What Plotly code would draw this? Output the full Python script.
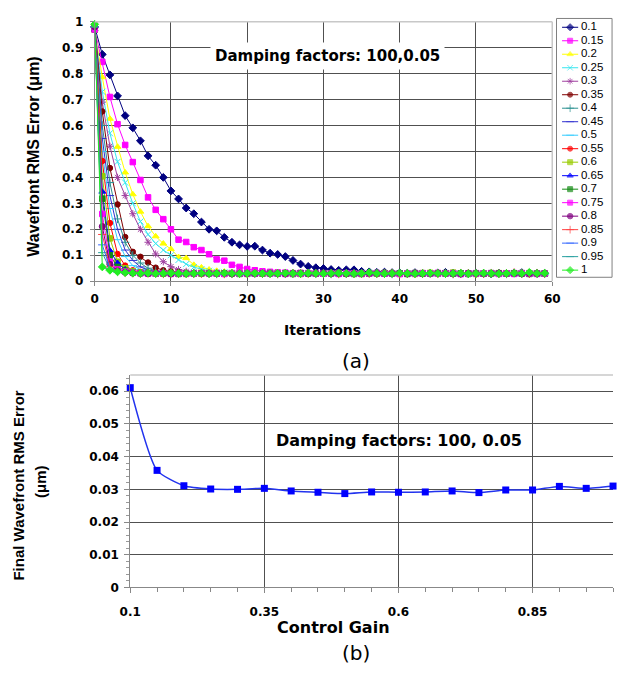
import plotly.graph_objects as go

# ---------------- data: chart (a) ----------------
iterations = list(range(60))
gain_labels = ["0.1", "0.15", "0.2", "0.25", "0.3", "0.35", "0.4", "0.45", "0.5", "0.55",
               "0.6", "0.65", "0.7", "0.75", "0.8", "0.85", "0.9", "0.95", "1"]

s_010 = [0.980, 0.874, 0.795, 0.714, 0.638, 0.591, 0.541, 0.483, 0.447, 0.400,
         0.348, 0.317, 0.282, 0.260, 0.228, 0.200, 0.194, 0.169, 0.150, 0.140,
         0.134, 0.135, 0.120, 0.108, 0.103, 0.095, 0.080, 0.066, 0.057, 0.052,
         0.049, 0.045, 0.042, 0.044, 0.044, 0.038, 0.036, 0.034, 0.035, 0.033,
         0.032, 0.031, 0.033, 0.030, 0.031, 0.032, 0.034, 0.031, 0.030, 0.029,
         0.031, 0.030, 0.028, 0.031, 0.030, 0.032, 0.033, 0.031, 0.030, 0.030]
s_015 = [0.970, 0.845, 0.710, 0.605, 0.525, 0.459, 0.390, 0.323, 0.275, 0.239,
         0.200, 0.160, 0.151, 0.131, 0.120, 0.104, 0.084, 0.079, 0.063, 0.055,
         0.047, 0.042, 0.038, 0.036, 0.034, 0.033, 0.031, 0.032, 0.030, 0.029,
         0.031, 0.030, 0.032, 0.030, 0.029, 0.028, 0.030, 0.031, 0.029, 0.030,
         0.028, 0.030, 0.031, 0.029, 0.030, 0.032, 0.030, 0.029, 0.028, 0.030,
         0.031, 0.029, 0.030, 0.028, 0.030, 0.031, 0.029, 0.030, 0.028, 0.029]
s_020 = [0.970, 0.786, 0.626, 0.518, 0.419, 0.335, 0.268, 0.212, 0.173, 0.145,
         0.124, 0.093, 0.089, 0.063, 0.053, 0.045, 0.040, 0.037, 0.035, 0.033,
         0.031, 0.030, 0.032, 0.029, 0.031, 0.030, 0.028, 0.030, 0.031, 0.029,
         0.030, 0.032, 0.029, 0.030, 0.031, 0.028, 0.030, 0.029, 0.031, 0.030,
         0.029, 0.031, 0.030, 0.028, 0.030, 0.031, 0.029, 0.030, 0.032, 0.029,
         0.030, 0.028, 0.031, 0.030, 0.029, 0.030, 0.031, 0.029, 0.030, 0.028]
s_025 = [0.980, 0.730, 0.570, 0.460, 0.380, 0.300, 0.230, 0.180, 0.145, 0.120,
         0.100, 0.082, 0.066, 0.054, 0.046, 0.040, 0.036, 0.034, 0.032, 0.031,
         0.030, 0.029, 0.031, 0.030, 0.028, 0.030, 0.031, 0.029, 0.030, 0.031,
         0.029, 0.028, 0.030, 0.031, 0.029, 0.030, 0.032, 0.029, 0.030, 0.028,
         0.031, 0.030, 0.029, 0.031, 0.030, 0.028, 0.030, 0.029, 0.031, 0.030,
         0.029, 0.030, 0.028, 0.031, 0.030, 0.029, 0.030, 0.031, 0.029, 0.030]
s_030 = [0.975, 0.690, 0.520, 0.400, 0.330, 0.260, 0.200, 0.150, 0.105, 0.075,
         0.056, 0.045, 0.038, 0.034, 0.032, 0.030, 0.031, 0.029, 0.030, 0.031,
         0.028, 0.030, 0.029, 0.031, 0.030, 0.029, 0.030, 0.028, 0.031, 0.030,
         0.029, 0.031, 0.030, 0.028, 0.030, 0.029, 0.031, 0.030, 0.029, 0.030,
         0.031, 0.028, 0.030, 0.029, 0.030, 0.031, 0.029, 0.030, 0.028, 0.030,
         0.031, 0.029, 0.030, 0.029, 0.031, 0.030, 0.028, 0.030, 0.029, 0.030]
s_035 = [0.990, 0.654, 0.436, 0.296, 0.170, 0.113, 0.094, 0.072, 0.052, 0.042,
         0.037, 0.034, 0.032, 0.030, 0.031, 0.029, 0.030, 0.031, 0.028, 0.030,
         0.029, 0.031, 0.030, 0.029, 0.030, 0.028, 0.031, 0.030, 0.029, 0.030,
         0.031, 0.029, 0.030, 0.028, 0.030, 0.031, 0.029, 0.030, 0.029, 0.031,
         0.030, 0.028, 0.030, 0.029, 0.031, 0.030, 0.029, 0.030, 0.031, 0.028,
         0.030, 0.029, 0.030, 0.031, 0.029, 0.030, 0.028, 0.030, 0.031, 0.029]
s_040 = [0.980, 0.600, 0.380, 0.240, 0.150, 0.100, 0.070, 0.050, 0.040, 0.035,
         0.032, 0.031, 0.030, 0.029, 0.031, 0.030, 0.028, 0.030, 0.029, 0.031,
         0.030, 0.029, 0.030, 0.031, 0.028, 0.030, 0.029, 0.030, 0.031, 0.029,
         0.030, 0.028, 0.031, 0.030, 0.029, 0.030, 0.031, 0.029, 0.030, 0.028,
         0.030, 0.031, 0.029, 0.030, 0.029, 0.031, 0.030, 0.028, 0.030, 0.029,
         0.031, 0.030, 0.029, 0.030, 0.028, 0.031, 0.030, 0.029, 0.030, 0.031]
s_045 = [0.980, 0.550, 0.330, 0.200, 0.120, 0.080, 0.055, 0.042, 0.036, 0.033,
         0.031, 0.030, 0.029, 0.031, 0.030, 0.028, 0.030, 0.031, 0.029, 0.030,
         0.029, 0.031, 0.030, 0.028, 0.030, 0.029, 0.031, 0.030, 0.029, 0.030,
         0.028, 0.030, 0.031, 0.029, 0.030, 0.029, 0.031, 0.030, 0.028, 0.030,
         0.029, 0.031, 0.030, 0.029, 0.030, 0.028, 0.031, 0.030, 0.029, 0.030,
         0.031, 0.029, 0.030, 0.028, 0.030, 0.029, 0.031, 0.030, 0.029, 0.030]
s_050 = [0.980, 0.500, 0.280, 0.160, 0.095, 0.060, 0.045, 0.038, 0.034, 0.031,
         0.030, 0.029, 0.031, 0.030, 0.028, 0.030, 0.029, 0.031, 0.030, 0.029,
         0.030, 0.031, 0.028, 0.030, 0.029, 0.030, 0.031, 0.029, 0.030, 0.028,
         0.031, 0.030, 0.029, 0.030, 0.031, 0.029, 0.030, 0.028, 0.030, 0.029,
         0.031, 0.030, 0.029, 0.030, 0.028, 0.031, 0.030, 0.029, 0.030, 0.031,
         0.029, 0.030, 0.028, 0.030, 0.029, 0.031, 0.030, 0.029, 0.030, 0.028]
s_055 = [0.980, 0.463, 0.224, 0.105, 0.060, 0.042, 0.036, 0.033, 0.031, 0.030,
         0.029, 0.031, 0.030, 0.028, 0.030, 0.029, 0.031, 0.030, 0.029, 0.030,
         0.031, 0.028, 0.030, 0.029, 0.030, 0.031, 0.029, 0.030, 0.028, 0.031,
         0.030, 0.029, 0.030, 0.031, 0.029, 0.030, 0.028, 0.030, 0.029, 0.031,
         0.030, 0.029, 0.030, 0.028, 0.031, 0.030, 0.029, 0.030, 0.031, 0.029,
         0.030, 0.028, 0.030, 0.029, 0.031, 0.030, 0.029, 0.032, 0.030, 0.029]
s_060 = [0.970, 0.404, 0.165, 0.075, 0.050, 0.038, 0.033, 0.031, 0.030, 0.029,
         0.031, 0.030, 0.028, 0.030, 0.029, 0.031, 0.030, 0.029, 0.030, 0.031,
         0.028, 0.030, 0.029, 0.030, 0.031, 0.029, 0.030, 0.028, 0.031, 0.030,
         0.029, 0.030, 0.031, 0.029, 0.030, 0.028, 0.030, 0.029, 0.031, 0.030,
         0.029, 0.030, 0.028, 0.031, 0.032, 0.029, 0.030, 0.033, 0.029, 0.030,
         0.028, 0.030, 0.029, 0.031, 0.030, 0.029, 0.030, 0.031, 0.029, 0.030]
s_065 = [0.970, 0.345, 0.118, 0.070, 0.045, 0.036, 0.032, 0.030, 0.031, 0.029,
         0.030, 0.028, 0.030, 0.031, 0.029, 0.030, 0.029, 0.031, 0.030, 0.028,
         0.030, 0.029, 0.031, 0.030, 0.029, 0.030, 0.031, 0.028, 0.030, 0.029,
         0.030, 0.031, 0.029, 0.030, 0.028, 0.030, 0.031, 0.029, 0.030, 0.029,
         0.031, 0.030, 0.028, 0.030, 0.029, 0.031, 0.033, 0.029, 0.030, 0.028,
         0.031, 0.030, 0.029, 0.030, 0.031, 0.029, 0.030, 0.028, 0.030, 0.029]
s_070 = [0.970, 0.318, 0.100, 0.055, 0.040, 0.034, 0.031, 0.030, 0.029, 0.031,
         0.030, 0.028, 0.030, 0.029, 0.031, 0.030, 0.029, 0.030, 0.031, 0.028,
         0.030, 0.029, 0.030, 0.031, 0.029, 0.030, 0.028, 0.031, 0.030, 0.029,
         0.030, 0.031, 0.029, 0.030, 0.028, 0.030, 0.029, 0.031, 0.030, 0.029,
         0.030, 0.028, 0.031, 0.030, 0.029, 0.030, 0.031, 0.029, 0.030, 0.028,
         0.030, 0.029, 0.031, 0.030, 0.029, 0.030, 0.031, 0.028, 0.030, 0.029]
s_075 = [0.970, 0.259, 0.075, 0.045, 0.037, 0.033, 0.031, 0.029, 0.030, 0.031,
         0.028, 0.030, 0.029, 0.030, 0.031, 0.029, 0.030, 0.028, 0.031, 0.030,
         0.029, 0.030, 0.031, 0.029, 0.030, 0.028, 0.030, 0.029, 0.031, 0.030,
         0.029, 0.030, 0.028, 0.031, 0.030, 0.029, 0.030, 0.031, 0.029, 0.030,
         0.028, 0.030, 0.029, 0.031, 0.030, 0.029, 0.030, 0.031, 0.028, 0.030,
         0.029, 0.030, 0.031, 0.029, 0.030, 0.028, 0.031, 0.030, 0.029, 0.030]
s_080 = [0.980, 0.211, 0.065, 0.040, 0.034, 0.031, 0.030, 0.029, 0.031, 0.030,
         0.028, 0.030, 0.029, 0.031, 0.030, 0.029, 0.030, 0.031, 0.028, 0.030,
         0.029, 0.030, 0.031, 0.029, 0.030, 0.028, 0.031, 0.030, 0.029, 0.030,
         0.031, 0.029, 0.030, 0.028, 0.030, 0.029, 0.031, 0.030, 0.029, 0.030,
         0.031, 0.028, 0.030, 0.029, 0.030, 0.031, 0.029, 0.030, 0.028, 0.031,
         0.030, 0.029, 0.030, 0.031, 0.029, 0.030, 0.028, 0.030, 0.029, 0.031]
s_085 = [0.980, 0.180, 0.055, 0.038, 0.033, 0.031, 0.029, 0.030, 0.031, 0.028,
         0.030, 0.029, 0.031, 0.030, 0.029, 0.030, 0.031, 0.028, 0.030, 0.029,
         0.030, 0.031, 0.029, 0.030, 0.028, 0.031, 0.030, 0.029, 0.030, 0.031,
         0.029, 0.030, 0.028, 0.030, 0.029, 0.031, 0.030, 0.029, 0.030, 0.031,
         0.028, 0.030, 0.029, 0.030, 0.031, 0.029, 0.030, 0.028, 0.031, 0.030,
         0.029, 0.030, 0.031, 0.029, 0.030, 0.033, 0.030, 0.029, 0.031, 0.030]
s_090 = [0.980, 0.140, 0.050, 0.036, 0.032, 0.030, 0.031, 0.029, 0.030, 0.028,
         0.031, 0.030, 0.029, 0.030, 0.031, 0.029, 0.030, 0.028, 0.030, 0.029,
         0.031, 0.030, 0.029, 0.030, 0.031, 0.028, 0.030, 0.029, 0.030, 0.031,
         0.029, 0.030, 0.028, 0.031, 0.030, 0.029, 0.030, 0.031, 0.029, 0.030,
         0.028, 0.030, 0.029, 0.031, 0.030, 0.029, 0.030, 0.031, 0.028, 0.030,
         0.029, 0.030, 0.031, 0.029, 0.030, 0.028, 0.031, 0.030, 0.029, 0.030]
s_095 = [0.980, 0.110, 0.045, 0.035, 0.031, 0.030, 0.029, 0.031, 0.030, 0.028,
         0.030, 0.029, 0.031, 0.030, 0.029, 0.030, 0.031, 0.029, 0.030, 0.028,
         0.030, 0.029, 0.031, 0.030, 0.029, 0.030, 0.031, 0.028, 0.030, 0.029,
         0.030, 0.031, 0.029, 0.030, 0.028, 0.030, 0.029, 0.031, 0.030, 0.029,
         0.030, 0.031, 0.028, 0.030, 0.033, 0.030, 0.029, 0.031, 0.030, 0.029,
         0.030, 0.028, 0.031, 0.030, 0.029, 0.030, 0.031, 0.029, 0.030, 0.028]
s_100 = [0.990, 0.055, 0.042, 0.036, 0.033, 0.031, 0.030, 0.031, 0.029, 0.030,
         0.031, 0.030, 0.029, 0.030, 0.031, 0.029, 0.030, 0.031, 0.030, 0.029,
         0.030, 0.031, 0.030, 0.029, 0.030, 0.031, 0.030, 0.029, 0.031, 0.030,
         0.029, 0.030, 0.031, 0.030, 0.029, 0.030, 0.033, 0.030, 0.029, 0.030,
         0.031, 0.030, 0.029, 0.030, 0.031, 0.030, 0.029, 0.030, 0.031, 0.029,
         0.030, 0.031, 0.030, 0.029, 0.030, 0.031, 0.030, 0.034, 0.030, 0.031]

series_a = [s_010, s_015, s_020, s_025, s_030, s_035, s_040, s_045, s_050, s_055,
            s_060, s_065, s_070, s_075, s_080, s_085, s_090, s_095, s_100]

# ---------------- data: chart (b) ----------------
control_gain = [0.1, 0.15, 0.2, 0.25, 0.3, 0.35, 0.4, 0.45, 0.5, 0.55,
                0.6, 0.65, 0.7, 0.75, 0.8, 0.85, 0.9, 0.95, 1.0]
final_rms = [0.0611, 0.0358, 0.0311, 0.0301, 0.0300, 0.0303, 0.0295, 0.0291, 0.0287, 0.0292,
             0.0291, 0.0292, 0.0295, 0.0290, 0.0298, 0.0298, 0.0309, 0.0303, 0.0310]

# ---------------- styles ----------------
colors = ["#000080", "#FF00FF", "#FFFF00", "#33E6F0", "#A040A0", "#800000", "#2A9090", "#3030D0",
          "#33CCFF", "#FF0000", "#99CC00", "#0000FF", "#138A13", "#FF00FF", "#800080", "#FF4040",
          "#3366FF", "#2AA0A0", "#22EE22"]
symbols = ["diamond", "square", "triangle-up", "x-thin-open", "asterisk-open", "circle",
           "cross-thin-open", "line-ew-open", "line-ew-open", "circle", "square", "triangle-up",
           "square", "square", "circle", "cross-thin-open", "line-ew-open", "line-ew-open", "diamond"]
sizes = [6, 5.5, 6, 6, 6, 5.5, 6, 6, 6, 5.5, 5.5, 6, 5.5, 5.5, 6, 6, 6, 6, 6]

W, H = 622, 675
def px(x):
    return x / W
def py(y):
    return 1 - y / H

fig = go.Figure()

# chart (a)
for i, (lab, ys) in enumerate(zip(gain_labels, series_a)):
    fig.add_trace(go.Scatter(
        x=iterations, y=ys, name=lab, mode="lines+markers",
        line=dict(color=colors[i], width=1),
        marker=dict(symbol=symbols[i], size=sizes[i], color=colors[i],
                    line=dict(color=colors[i], width=1)),
        xaxis="x", yaxis="y", showlegend=False, cliponaxis=False))

# hand-built legend for chart (a) on its own small axes
n = len(gain_labels)
for i, lab in enumerate(gain_labels):
    msize = [0, sizes[i] - 0.5, 0]
    fig.add_trace(go.Scatter(
        x=[0.10, 0.245, 0.39], y=[i, i, i], mode="lines+markers",
        line=dict(color=colors[i], width=1),
        marker=dict(symbol=symbols[i], size=msize, color=colors[i],
                    line=dict(color=colors[i], width=1)),
        xaxis="x3", yaxis="y3", showlegend=False, hoverinfo="skip"))
fig.add_trace(go.Scatter(
    x=[0.44] * n, y=list(range(n)), mode="text", text=gain_labels,
    textposition="middle right",
    textfont=dict(family="Liberation Sans, Arial", size=11.5, color="black"),
    xaxis="x3", yaxis="y3", showlegend=False, hoverinfo="skip", cliponaxis=False))

# chart (b)
fig.add_trace(go.Scatter(
    x=control_gain, y=final_rms, mode="lines+markers",
    line=dict(color="#2233EE", width=1.5, shape="spline", smoothing=0.6),
    marker=dict(symbol="square", size=7, color="#0000FF"),
    xaxis="x2", yaxis="y2", showlegend=False, cliponaxis=False))

tickfont = dict(family="DejaVu Sans", size=12, color="black", weight="bold")
grid = "#505050"

fig.update_layout(
    width=W, height=H,
    margin=dict(l=0, r=0, t=0, b=0),
    paper_bgcolor="white", plot_bgcolor="white",
    xaxis=dict(domain=[px(86.3), px(558.3)], anchor="y", range=[0, 60], dtick=10,
               showgrid=True, gridcolor=grid, gridwidth=1, zeroline=False,
               showline=True, linecolor="#888888", linewidth=1,
               ticks="outside", ticklen=4, tickcolor="#888888",
               tickfont=tickfont, ticklabelstandoff=2),
    yaxis=dict(domain=[py(280), py(15)], anchor="x", range=[0, 1], dtick=0.1,
               showgrid=True, gridcolor=grid, gridwidth=1, zeroline=False,
               showline=True, linecolor="#888888", linewidth=1,
               ticks="outside", ticklen=4, tickcolor="#888888",
               tickfont=tickfont, ticklabelstandoff=4),
    xaxis2=dict(domain=[px(123), px(621)], anchor="y2", range=[0.1, 1.0],
                tick0=0.1, dtick=0.25,
                showgrid=True, gridcolor=grid, gridwidth=1, zeroline=False,
                showline=True, linecolor="#888888", linewidth=1,
                ticks="outside", ticklen=5, tickcolor="#888888",
                minor=dict(dtick=0.05, tick0=0.1, ticks="outside", ticklen=4,
                           tickcolor="#888888", showgrid=False),
                tickfont=tickfont, ticklabelstandoff=8),
    yaxis2=dict(domain=[py(592.7), py(375.7)], anchor="x2", range=[0, 0.065], dtick=0.01,
                showgrid=True, gridcolor=grid, gridwidth=1, zeroline=False,
                showline=True, linecolor="#888888", linewidth=1,
                ticks="outside", ticklen=5, tickcolor="#888888",
                minor=dict(dtick=0.002, ticks="outside", ticklen=3,
                           tickcolor="#999999", showgrid=False),
                tickfont=tickfont, ticklabelstandoff=3),
    xaxis3=dict(domain=[px(562.7), px(620)], anchor="y3", range=[0, 1], visible=False),
    yaxis3=dict(domain=[py(276), py(11.7)], anchor="x3", range=[18.53, -0.653], visible=False),
)

shapes = [
    dict(type="line", xref="x domain", yref="y domain", x0=0, x1=1, y0=1, y1=1,
         line=dict(color="#C8C8C8", width=1.5), layer="above"),
    dict(type="line", xref="x domain", yref="y domain", x0=1, x1=1, y0=0, y1=1,
         line=dict(color="#C8C8C8", width=1.5), layer="above"),
    dict(type="line", xref="x2 domain", yref="y2 domain", x0=0, x1=1, y0=1, y1=1,
         line=dict(color="#C8C8C8", width=1.5), layer="above"),
    dict(type="rect", xref="x3 domain", yref="y3 domain", x0=0, x1=1, y0=0, y1=1,
         line=dict(color="#808080", width=1), fillcolor="white", layer="below"),
]
fig.update_layout(shapes=shapes)

bold = "bold"
annotations = [
    dict(text="Damping factors: 100,0.05", x=px(326), y=py(50), xref="paper", yref="paper",
         showarrow=False, bgcolor="white", borderpad=4, xanchor="center", yanchor="middle",
         font=dict(family="DejaVu Sans", size=15, color="black", weight=bold)),
    dict(text="Wavefront RMS Error (\u03bcm)", x=px(23), y=py(152.5), xref="paper", yref="paper",
         showarrow=False, textangle=-90, xanchor="center", yanchor="middle",
         font=dict(family="Liberation Sans, Arial", size=16, color="black", weight=bold)),
    dict(text="Iterations", x=px(321), y=py(329.4), xref="paper", yref="paper",
         showarrow=False, xanchor="center", yanchor="middle",
         font=dict(family="DejaVu Sans", size=14, color="black", weight=bold)),
    dict(text="(a)", x=px(356), y=py(361), xref="paper", yref="paper",
         showarrow=False, xanchor="center", yanchor="middle",
         font=dict(family="DejaVu Sans", size=20, color="black")),
    dict(text="Damping factors: 100, 0.05", x=px(400), y=py(443), xref="paper", yref="paper",
         showarrow=False, xanchor="center", yanchor="middle",
         font=dict(family="DejaVu Sans", size=16, color="black", weight=bold)),
    dict(text="Final Wavefront RMS Error", x=px(8), y=py(489), xref="paper", yref="paper",
         showarrow=False, textangle=-90, xanchor="center", yanchor="middle",
         font=dict(family="Liberation Sans, Arial", size=15, color="black", weight=bold)),
    dict(text="(\u03bcm)", x=px(31), y=py(485), xref="paper", yref="paper",
         showarrow=False, textangle=-90, xanchor="center", yanchor="middle",
         font=dict(family="Liberation Sans, Arial", size=15, color="black", weight=bold)),
    dict(text="Control Gain", x=px(333), y=py(633.3), xref="paper", yref="paper",
         showarrow=False, xanchor="center", yanchor="middle",
         font=dict(family="DejaVu Sans", size=16, color="black", weight=bold)),
    dict(text="(b)", x=px(356), y=py(660), xref="paper", yref="paper",
         showarrow=False, xanchor="center", yanchor="middle",
         font=dict(family="DejaVu Sans", size=20, color="black")),
]
fig.update_layout(annotations=annotations)

fig.write_html("out.html")
